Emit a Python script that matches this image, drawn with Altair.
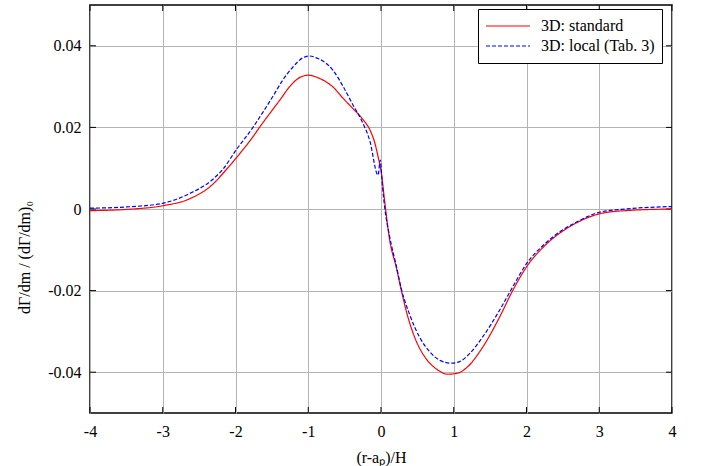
import altair as alt
import pandas as pd

std_x = [-4, -3.5, -3, -2.63, -2.31, -2.13, -1.94, -1.76, -1.67, -1.53, -1.39, -1.26, -1.12, -1.0,
         -0.87, -0.75, -0.66, -0.52, -0.385, -0.27, -0.13, -0.09, -0.04, 0.005, 0.05, 0.12, 0.21,
         0.28, 0.37, 0.48, 0.62, 0.76, 0.92, 1.06, 1.17, 1.4, 1.63, 1.81, 2.0, 2.28, 2.55, 2.73,
         3.0, 3.36, 4.0]
std_y = [-0.0004, -0.0001, 0.0008, 0.0025, 0.0061, 0.0096, 0.0136, 0.0177, 0.0200, 0.0234, 0.0267,
         0.0299, 0.0322, 0.0328, 0.0322, 0.0311, 0.0299, 0.0271, 0.0246, 0.0224, 0.0185, 0.0165,
         0.0128, 0.0088, 0.0020, -0.0077, -0.0143, -0.0200, -0.0265, -0.0322, -0.0367, -0.0392,
         -0.0405, -0.0402, -0.0390, -0.0338, -0.0265, -0.0200, -0.0142, -0.0085, -0.0048, -0.0030,
         -0.0012, -0.0004, 0.0]

loc_x = [-4, -3.5, -3, -2.63, -2.31, -2.17, -1.99, -1.76, -1.62, -1.49, -1.35, -1.21, -1.07, -0.98,
         -0.87, -0.80, -0.66, -0.52, -0.385, -0.27, -0.155, -0.04, -0.01, 0.02, 0.05, 0.12, 0.21,
         0.28, 0.39, 0.53, 0.67, 0.80, 0.97, 1.08, 1.22, 1.4, 1.63, 1.81, 2.0, 2.28, 2.73, 3.0,
         3.36, 4.0]
loc_y = [0.0002, 0.0005, 0.0014, 0.0038, 0.0073, 0.0098, 0.0145, 0.0200, 0.0238, 0.0275, 0.0316,
         0.0348, 0.0371, 0.0375, 0.0369, 0.0363, 0.0340, 0.0300, 0.0255, 0.0218, 0.0168, 0.0083,
         0.0120, 0.0055, 0.0005, -0.0069, -0.0139, -0.0196, -0.0257, -0.0314, -0.0350, -0.0370,
         -0.0378, -0.0374, -0.0354, -0.0313, -0.0248, -0.0191, -0.0134, -0.0081, -0.0028, -0.0008,
         0.0, 0.0006]

series_names = ["3D: standard", "3D: local (Tab. 3)"]
series_colors = ["#ff0000", "#0000ff"]
x_ticks = [-4, -3, -2, -1, 0, 1, 2, 3, 4]
y_ticks = [-0.04, -0.02, 0, 0.02, 0.04]

W, H = 582, 408
FONT = "Liberation Serif"

df = pd.concat([
    pd.DataFrame({"x": std_x, "y": std_y, "series": series_names[0], "order": range(len(std_x))}),
    pd.DataFrame({"x": loc_x, "y": loc_y, "series": series_names[1], "order": range(len(loc_x))}),
])

xscale = alt.Scale(domain=[-4, 4], nice=False, zero=False)
yscale = alt.Scale(domain=[-0.05, 0.05], nice=False, zero=False)

xlab = "datum.value < 0 ? '-' + format(-datum.value, 'd') : format(datum.value, 'd')"
ylab = ("datum.value == 0 ? '0' : (datum.value < 0 ? '-' + format(-datum.value, '.2f') "
        ": format(datum.value, '.2f'))")

fonts = dict(labelFont=FONT, labelFontSize=16, labelColor="black", titleFont=FONT,
             titleFontSize=16, titleColor="black", titleFontWeight="normal",
             gridColor="#b4b4b4", gridOpacity=1, ticks=False, domain=False,
             labelFlush=False, labelOverlap=False)

lines = alt.Chart(df).mark_line(strokeWidth=1.2, interpolate="monotone").encode(
    x=alt.X("x:Q", scale=xscale,
            axis=alt.Axis(values=x_ticks, title="(r-aₚ)/H", labelExpr=xlab,
                          labelPadding=10, titleY=49, titleBaseline="alphabetic", **fonts)),
    y=alt.Y("y:Q", scale=yscale,
            axis=alt.Axis(values=y_ticks, title="dΓ/dm / (dΓ/dm)₀", labelExpr=ylab,
                          labelPadding=9, titleX=-61, titleY=252, titleBaseline="alphabetic",
                          **fonts)),
    color=alt.Color("series:N", scale=alt.Scale(domain=series_names, range=series_colors),
                    legend=alt.Legend(title=None, orient="none", legendX=388, legendY=4,
                                      symbolType="stroke", symbolStrokeWidth=1.2,
                                      fillColor="white", strokeColor="black", padding=7,
                                      labelFont=FONT, labelFontSize=16, labelColor="black",
                                      symbolSize=1936, clipHeight=20, rowPadding=0,
                                      labelOffset=10)),
    strokeDash=alt.StrokeDash("series:N",
                              scale=alt.Scale(domain=series_names, range=[[1, 0], [4, 2]]),
                              legend=None),
    order="order:Q",
)

xt = pd.DataFrame({"v": x_ticks})
yt = pd.DataFrame({"v": y_ticks})
tk = dict(color="black", strokeWidth=1)
xb = alt.Chart(xt).mark_rule(**tk).encode(x=alt.X("v:Q", scale=xscale), y=alt.value(H), y2=alt.value(H - 6))
xtp = alt.Chart(xt).mark_rule(**tk).encode(x=alt.X("v:Q", scale=xscale), y=alt.value(0), y2=alt.value(6))
yl = alt.Chart(yt).mark_rule(**tk).encode(y=alt.Y("v:Q", scale=yscale), x=alt.value(0), x2=alt.value(6))
yr = alt.Chart(yt).mark_rule(**tk).encode(y=alt.Y("v:Q", scale=yscale), x=alt.value(W), x2=alt.value(W - 6))

chart = alt.layer(xb, xtp, yl, yr, lines).properties(
    width=W, height=H,
    autosize=alt.AutoSizeParams(type="none"),
    padding={"left": 90, "top": 5, "right": 33, "bottom": 53},
).configure(background="white").configure_view(stroke="black", strokeWidth=1.5)

chart.save("out.html", embed_options={"renderer": "svg", "actions": False})
